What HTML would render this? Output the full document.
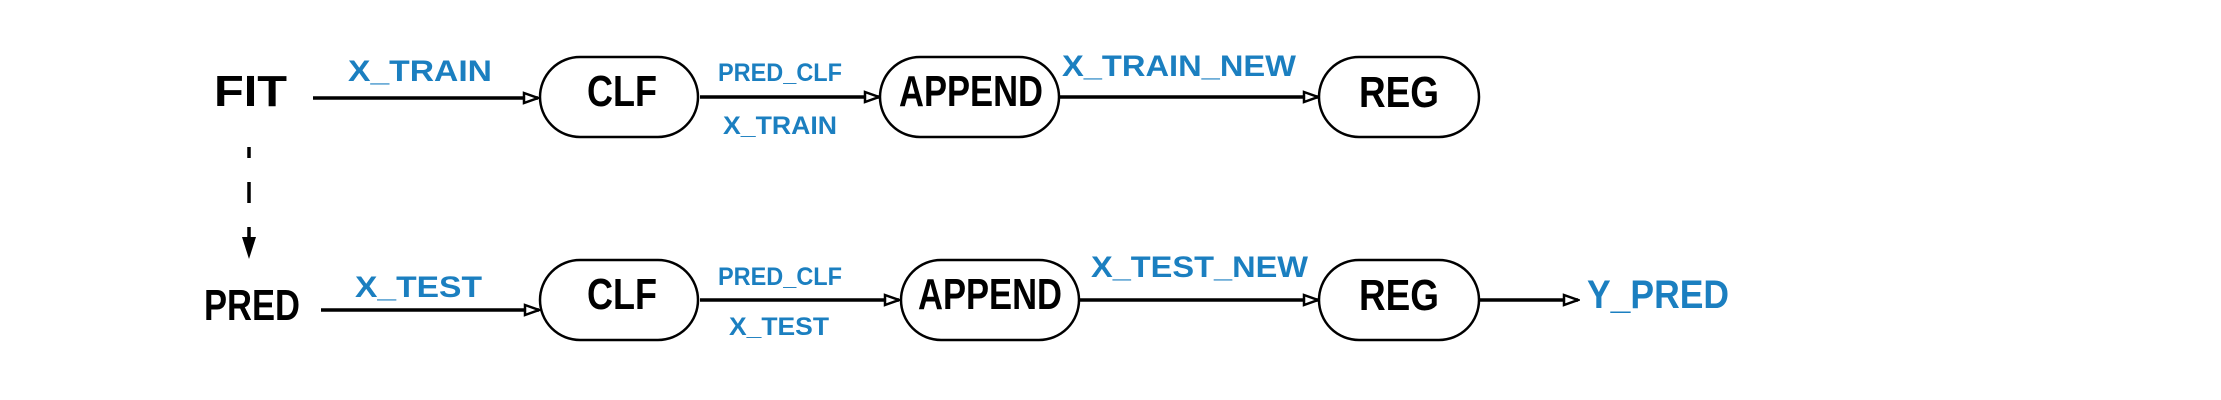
<!DOCTYPE html>
<html><head><meta charset="utf-8"><style>
html,body{margin:0;padding:0;background:#fff;}
svg{display:block;}
text{font-family:"Liberation Sans",sans-serif;font-weight:bold;}
.k{fill:#000;font-size:44px;}
.b{fill:#1b7fc0;}
</style></head><body>
<svg width="2221" height="400" viewBox="0 0 2221 400" xmlns="http://www.w3.org/2000/svg">
<defs>
<marker id="ah" markerWidth="18" markerHeight="14" refX="16" refY="7" orient="auto" markerUnits="userSpaceOnUse">
<path d="M2,2 L16,7 L2,12 Z" fill="#fff" stroke="#000" stroke-width="2.5"/>
</marker>
</defs>
<g fill="#fff" stroke="#000" stroke-width="2.5">
<rect x="540" y="57" width="158" height="80" rx="40"/>
<rect x="880" y="57" width="179" height="80" rx="40"/>
<rect x="1319" y="57" width="160" height="80" rx="40"/>
<rect x="540" y="260" width="158" height="80" rx="40"/>
<rect x="901" y="260" width="178" height="80" rx="40"/>
<rect x="1319" y="260" width="160" height="80" rx="40"/>
</g>
<g stroke="#000" stroke-width="3.5" fill="none">
<line x1="313" y1="98" x2="538" y2="98" marker-end="url(#ah)"/>
<line x1="700" y1="97" x2="879" y2="97" marker-end="url(#ah)"/>
<line x1="1059" y1="97" x2="1318" y2="97" marker-end="url(#ah)"/>
<line x1="321" y1="310" x2="539" y2="310" marker-end="url(#ah)"/>
<line x1="700" y1="300" x2="899" y2="300" marker-end="url(#ah)"/>
<line x1="1079" y1="300" x2="1318" y2="300" marker-end="url(#ah)"/>
<line x1="1480" y1="300" x2="1578" y2="300" marker-end="url(#ah)"/>
<line x1="249" y1="147" x2="249" y2="158"/>
<line x1="249" y1="182" x2="249" y2="203"/>
<line x1="249" y1="227" x2="249" y2="238"/>
</g>
<path d="M242,237 L256,237 L249,259 Z" fill="#000"/>
<text class="k" x="214" y="106" textLength="73" lengthAdjust="spacingAndGlyphs">FIT</text>
<text class="k" x="204" y="320" textLength="96" lengthAdjust="spacingAndGlyphs">PRED</text>
<text class="k" x="587" y="106" textLength="70" lengthAdjust="spacingAndGlyphs">CLF</text>
<text class="k" x="899" y="106" textLength="144" lengthAdjust="spacingAndGlyphs">APPEND</text>
<text class="k" x="1359" y="107" textLength="80" lengthAdjust="spacingAndGlyphs">REG</text>
<text class="k" x="587" y="309" textLength="70" lengthAdjust="spacingAndGlyphs">CLF</text>
<text class="k" x="918" y="309" textLength="144" lengthAdjust="spacingAndGlyphs">APPEND</text>
<text class="k" x="1359" y="310" textLength="80" lengthAdjust="spacingAndGlyphs">REG</text>
<text class="b" font-size="30" x="348" y="81" textLength="144" lengthAdjust="spacingAndGlyphs">X_TRAIN</text>
<text class="b" font-size="25" x="718" y="81" textLength="124" lengthAdjust="spacingAndGlyphs">PRED_CLF</text>
<text class="b" font-size="25" x="723" y="134" textLength="114" lengthAdjust="spacingAndGlyphs">X_TRAIN</text>
<text class="b" font-size="30" x="1062" y="76" textLength="234" lengthAdjust="spacingAndGlyphs">X_TRAIN_NEW</text>
<text class="b" font-size="30" x="355" y="297" textLength="127" lengthAdjust="spacingAndGlyphs">X_TEST</text>
<text class="b" font-size="25" x="718" y="285" textLength="124" lengthAdjust="spacingAndGlyphs">PRED_CLF</text>
<text class="b" font-size="25" x="729" y="335" textLength="100" lengthAdjust="spacingAndGlyphs">X_TEST</text>
<text class="b" font-size="30" x="1091" y="277" textLength="217" lengthAdjust="spacingAndGlyphs">X_TEST_NEW</text>
<text class="b" font-size="40" x="1587" y="308" textLength="142" lengthAdjust="spacingAndGlyphs">Y_PRED</text>
</svg>
</body></html>
